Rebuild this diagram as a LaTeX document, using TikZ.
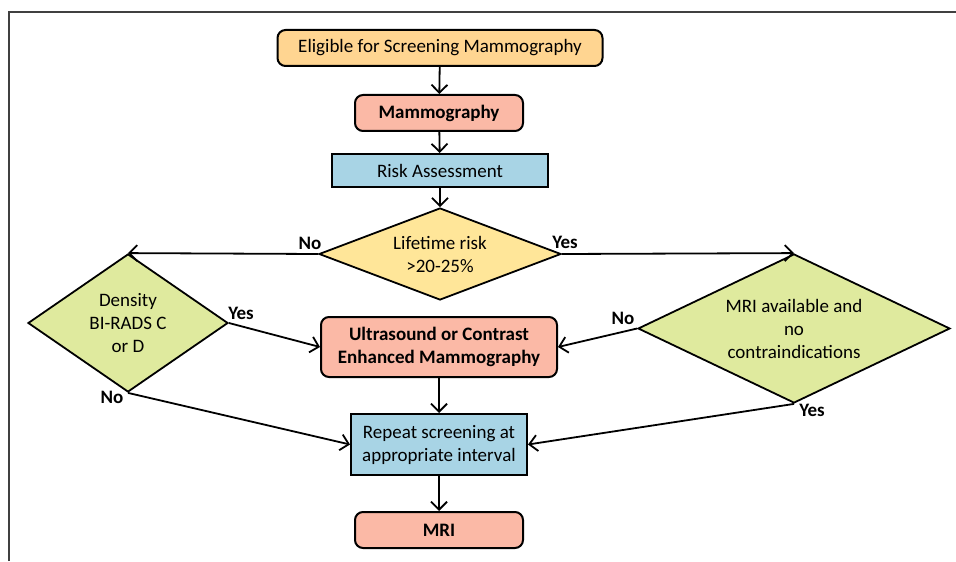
\documentclass[tikz,border=0pt]{standalone}
\usepackage{fontspec}
\setmainfont{Carlito}
\usetikzlibrary{shapes.geometric,arrows.meta}

\definecolor{elig}{HTML}{FFD591}
\definecolor{salmon}{HTML}{FBB9A6}
\definecolor{paleblue}{HTML}{A8D4E5}
\definecolor{lightyellow}{HTML}{FFE699}
\definecolor{palegreen}{HTML}{DFEA9E}

\tikzset{
  rbox/.style={draw, line width=1pt, rounded corners=4pt, align=center, inner sep=0pt},
  sbox/.style={draw, line width=1pt, align=center, inner sep=0pt},
  decision/.style={diamond, draw, line width=0.9pt, inner sep=0pt},
  inside/.style={label={[align=center]center:#1}},
  yn/.style={font=\bfseries},
  flow/.style={line width=0.9pt, -{Straight Barb[length=4pt,width=8pt,line width=0.9pt]}}
}

\begin{document}
\fontsize{9.5}{11.5}\selectfont
\begin{tikzpicture}[x=0.5pt, y=-0.5pt, thick]
\useasboundingbox (0,0) rectangle (956,561);
\draw[line width=1pt, black!75] (9,561) -- (9,12) -- (956,12);

\node (eligible) [rbox, fill=elig, minimum width=162.5pt, minimum height=18pt] at (440,48) {Eligible for Screening Mammography};
\node (mammo) [rbox, fill=salmon, minimum width=84pt, minimum height=18pt, font=\bfseries] at (439,113) {Mammography};
\node (risk) [sbox, fill=paleblue, minimum width=108pt, minimum height=16.5pt] at (440,170.5) {Risk Assessment};
\node (lifetime) [decision, fill=lightyellow, minimum width=121pt, minimum height=46pt,
  inside={Lifetime risk\\>20-25\%}] at (440,254) {};
\node (density) [decision, fill=palegreen, minimum width=100pt, minimum height=69pt,
  inside={Density\\BI-RADS C\\or D}] at (128,323) {};
\node (mriavail) [decision, fill=palegreen, minimum width=156pt, minimum height=74.5pt,
  inside={MRI available and\\no\\contraindications}] at (794,328.5) {};
\node (us) [rbox, fill=salmon, minimum width=118pt, minimum height=30pt, font=\bfseries] at (439,347) {Ultrasound or Contrast\\Enhanced Mammography};
\node (repeat) [sbox, fill=paleblue, minimum width=88pt, minimum height=30.5pt] at (439,444.5) {Repeat screening at\\appropriate interval};
\node (mri) [rbox, fill=salmon, minimum width=84pt, minimum height=18pt, font=\bfseries] at (439,530) {MRI};

\node (nolife) [yn] at (310,243) {No};
\node (yeslife) [yn] at (565,242) {Yes};
\node (yesdens) [yn] at (241,313) {Yes};
\node (nodens) [yn] at (112,397) {No};
\node (nomri) [yn] at (623,318) {No};
\node (yesmri) [yn] at (812,410) {Yes};

\draw[flow] (eligible) -- (mammo);
\draw[flow] (mammo) -- (risk);
\draw[flow] (risk) -- (lifetime);
\draw[flow] (lifetime.west) -- (density.north);
\draw[flow] (lifetime.east) -- (mriavail.north);
\draw[flow] (density.east) -- (us.west);
\draw[flow] (density.south) -- (repeat.west);
\draw[flow] (mriavail.west) -- (us.east);
\draw[flow] (mriavail.south) -- (repeat.east);
\draw[flow] (us) -- (repeat);
\draw[flow] (repeat) -- (mri);
\end{tikzpicture}
\end{document}
